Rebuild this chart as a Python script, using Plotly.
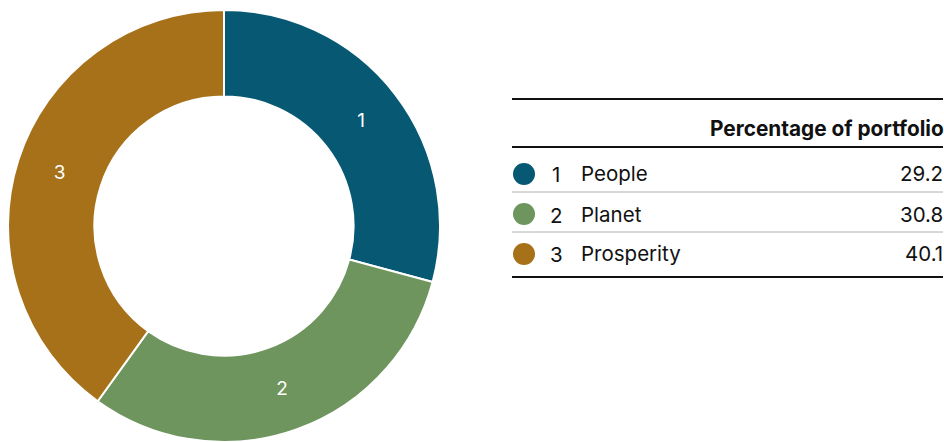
import plotly.graph_objects as go

W, H = 944, 442

categories = ["People", "Planet", "Prosperity"]
numbers = ["1", "2", "3"]
values = [29.2, 30.8, 40.1]
value_labels = ["29.2", "30.8", "40.1"]
colors = ["#065873", "#6f955e", "#a67119"]
header = "Percentage of portfolio"

FONT = "Inter, Liberation Sans, Arial, sans-serif"
FS = 20.5

def px(x):
    return x / W

def py(y):
    return 1 - y / H

fig = go.Figure()
fig.add_trace(go.Pie(
    labels=categories,
    values=values,
    text=numbers,
    textinfo="text",
    textposition="inside",
    insidetextorientation="horizontal",
    textfont=dict(color="white", size=19, family=FONT),
    marker=dict(colors=colors, line=dict(color="white", width=2)),
    hole=0.6,
    sort=False,
    direction="clockwise",
    rotation=0,
    showlegend=False,
    hoverinfo="label+value",
    domain=dict(x=[px(8), px(440)], y=[py(442), py(10)]),
))

shapes = []
annotations = []

x_left, x_right = 512, 943
# rules
for y, w, c in [(99, 2, "#111111"), (147, 2, "#111111"), (192, 1, "#b0b0b0"),
                (232, 1, "#b0b0b0"), (277, 2, "#111111")]:
    shapes.append(dict(type="line", xref="paper", yref="paper",
                       x0=px(x_left), x1=px(x_right), y0=py(y), y1=py(y),
                       line=dict(color=c, width=w)))

annotations.append(dict(text="<b>" + header + "</b>", xref="paper", yref="paper",
                        x=px(946), y=py(128), xanchor="right", yanchor="middle",
                        showarrow=False, font=dict(size=FS + 0.3, color="#111111", family=FONT)))

row_y = [174, 214, 254]
for i, cat in enumerate(categories):
    y = row_y[i]
    shapes.append(dict(type="circle", xref="paper", yref="paper",
                       xsizemode="pixel", ysizemode="pixel",
                       xanchor=px(524), yanchor=py(y),
                       x0=-11, x1=11, y0=-11, y1=11,
                       fillcolor=colors[i], line=dict(width=0)))
    annotations.append(dict(text=numbers[i], xref="paper", yref="paper",
                            x=px(556), y=py(y + 1), xanchor="center", yanchor="middle",
                            showarrow=False, font=dict(size=FS, color="#111111", family=FONT)))
    annotations.append(dict(text=cat, xref="paper", yref="paper",
                            x=px(579), y=py(y), xanchor="left", yanchor="middle",
                            showarrow=False, font=dict(size=FS, color="#111111", family=FONT)))
    annotations.append(dict(text=value_labels[i], xref="paper", yref="paper",
                            x=px(945), y=py(y), xanchor="right", yanchor="middle",
                            showarrow=False, font=dict(size=FS, color="#111111", family=FONT)))

fig.update_layout(
    width=W, height=H,
    margin=dict(l=0, r=0, t=0, b=0),
    paper_bgcolor="white", plot_bgcolor="white",
    shapes=shapes, annotations=annotations,
    font=dict(family=FONT),
)

fig.write_html("out.html")
